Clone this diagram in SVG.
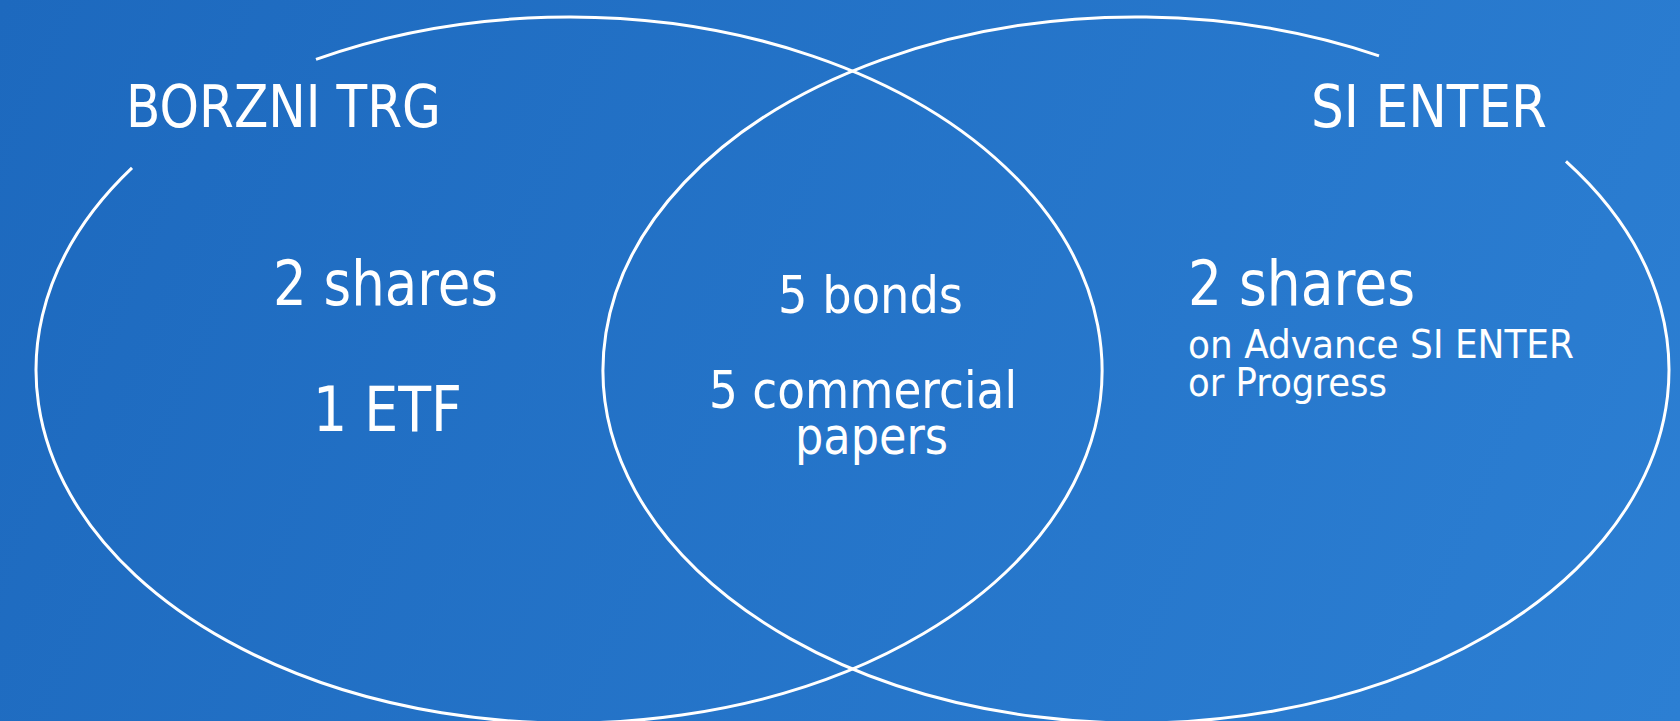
<svg xmlns="http://www.w3.org/2000/svg" width="1680" height="721" viewBox="0 0 1680 721">
  <defs>
    <linearGradient id="bg" gradientUnits="userSpaceOnUse" x1="0" y1="0" x2="1680" y2="721">
      <stop offset="0" stop-color="#1d69be"/>
      <stop offset="1" stop-color="#2c7fd3"/>
    </linearGradient>
  </defs>
  <style>
    .ring { fill: none; stroke: #ffffff; stroke-width: 3; }
    .t { fill: #ffffff; font-family: "DejaVu Sans", Verdana, sans-serif; }
    .title { font-size: 58px; }
    .big { font-size: 62px; }
    .mid { font-size: 51px; }
    .small { font-size: 38.5px; }
  </style>
  <rect x="0" y="0" width="1680" height="721" fill="url(#bg)"/>

  <g id="set-borzni-trg">
    <path class="ring" d="M316,59.3 A533,353 0 1 1 132,167.9"/>
    <text class="t title" x="126" y="127" textLength="315" lengthAdjust="spacingAndGlyphs">BORZNI TRG</text>
    <text class="t big" x="273" y="305" textLength="225" lengthAdjust="spacingAndGlyphs">2 shares</text>
    <text class="t big" x="313" y="431" textLength="149" lengthAdjust="spacingAndGlyphs">1 ETF</text>
  </g>

  <g id="set-si-enter">
    <path class="ring" d="M1566,161.4 A533,353 0 1 1 1379,55.8"/>
    <text class="t title" x="1311" y="127" textLength="236" lengthAdjust="spacingAndGlyphs">SI ENTER</text>
    <text class="t big" x="1188" y="305" textLength="227" lengthAdjust="spacingAndGlyphs">2 shares</text>
    <text class="t small" x="1188" y="358" textLength="386" lengthAdjust="spacingAndGlyphs">on Advance SI ENTER</text>
    <text class="t small" x="1188" y="396" textLength="199" lengthAdjust="spacingAndGlyphs">or Progress</text>
  </g>

  <g id="overlap">
    <text class="t mid" x="778" y="313" textLength="185" lengthAdjust="spacingAndGlyphs">5 bonds</text>
    <text class="t mid" x="709" y="408" textLength="308" lengthAdjust="spacingAndGlyphs">5 commercial</text>
    <text class="t mid" x="795" y="454" textLength="153" lengthAdjust="spacingAndGlyphs">papers</text>
  </g>

  <g id="connectors"></g>
</svg>
